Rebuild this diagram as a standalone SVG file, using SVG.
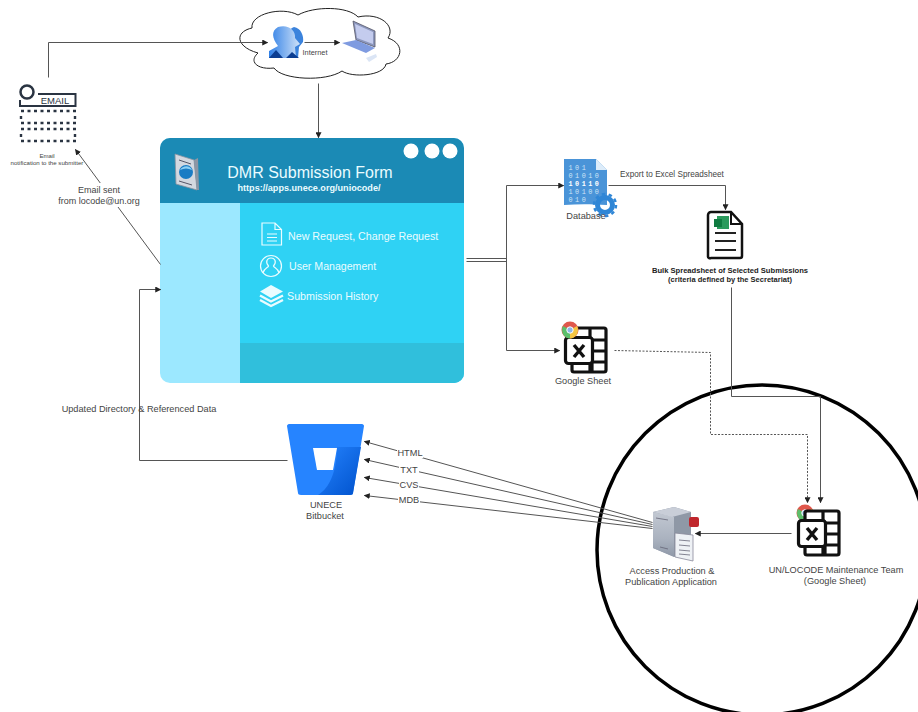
<svg xmlns="http://www.w3.org/2000/svg" width="918" height="712" viewBox="0 0 918 712">
<style>
text{font-family:"Liberation Sans",Arial,sans-serif;fill:#444}
.c{text-anchor:middle}
.w{fill:#eafcff}
.l{fill:none;stroke:#555;stroke-width:1}
.a{marker-end:url(#arr)}
.ic{fill:none;stroke:#111;stroke-width:3.2;stroke-linejoin:round}
.wi{fill:none;stroke:#eafcff;stroke-width:1.2}
.b{font-family:"Liberation Mono",monospace;font-size:6.800px;letter-spacing:2.500px;fill:#cfe4f7}
.n{font-size:9.200px}
</style>
<defs>
<marker id="arr" viewBox="0 0 8 8" refX="7" refY="4" markerWidth="6" markerHeight="6" orient="auto" markerUnits="userSpaceOnUse"><path d="M0 0L8 4L0 8Z" fill="#222"/></marker>
<linearGradient id="bb" x1="0" y1="0" x2="1" y2="1"><stop offset="0" stop-color="#2684ff"/><stop offset="1" stop-color="#0052cc"/></linearGradient>
<linearGradient id="hd" x1="0" y1="0" x2="1" y2="0"><stop offset="0" stop-color="#2f7fe6"/><stop offset="1" stop-color="#cfe2f8"/></linearGradient>
<linearGradient id="srv" x1="0" y1="0" x2="0" y2="1"><stop offset="0" stop-color="#c2c8d2"/><stop offset="0.6" stop-color="#aab2bf"/><stop offset="1" stop-color="#8f98a8"/></linearGradient>
<g id="sheet">
<rect x="8" y="1" width="34" height="44" rx="2" fill="#fff" stroke="#111" stroke-width="3.200"/>
<path d="M26 1V10M26 36V45M28 13V45M28 13H42M28 24H42M28 35H42" class="ic"/>
<rect x="1.500" y="10.500" width="27" height="26" rx="3" fill="#fff" stroke="#111" stroke-width="3.200"/>
<path d="M10 18L20 30M20 18L10 30" fill="none" stroke="#111" stroke-width="3.400"/>
</g>
<g id="chrome">
<circle cx="8" cy="8" r="8.500" fill="#e0574c"/>
<path d="M8 8L1 4A8.500 8.500 0 0 0 8 16.500Z" fill="#5cbf6b"/>
<path d="M8 8L15 4A8.500 8.500 0 0 1 8 16.500Z" fill="#f4c542"/>
<circle cx="8" cy="8" r="3.200" fill="#8fb6e8" stroke="#fff"/>
</g>
</defs>

<circle cx="762" cy="550" r="165" fill="none" stroke="#000" stroke-width="3.500"/>

<g id="internet">
<path d="M258 53C236 47 234 32 252 28C250 14 282 6 298 15C314 6 348 6 358 17C380 12 396 26 388 38C406 44 402 62 386 64C384 76 352 78 342 71C326 82 282 80 274 68C258 70 248 62 258 53Z" fill="#fff" stroke="#222" stroke-width="1"/>
<path d="M287 58C284 51 288 47 291 44C286 36 288 29 294 27C301 28 304 36 303 42L299 47L298 58Z" fill="#3b83dc"/>
<path d="M269 58V51L278 46C272 38 271 31 278 27C288 24 296 30 295 38L300 44L295 47L296 58Z" fill="url(#hd)"/>
<path d="M269 58L276 50L283 58ZM286 58L292 52L299 58Z" fill="#0b3d91"/>
<text x="315" y="54.500" font-size="7.400" class="c">Internet</text>
<path d="M353 21L375 31V47L356 40Z" fill="#8c97bd" stroke="#556" stroke-width="0.800"/>
<path d="M355 24L373 32V44L357 38Z" fill="#c4ccee"/>
<path d="M356 40L375 48L366 53L342 43Z" fill="#7f9be0"/>
<path d="M366 58L376 54L377 57L369 62Z" fill="#dbe5f5"/>
</g>

<g id="email">
<circle cx="27" cy="92" r="6.500" fill="none" stroke="#2a3442" stroke-width="2.500"/>
<path d="M38 94H75.500V106H20V100" fill="none" stroke="#2a3442" stroke-width="2"/>
<text x="55" y="104" font-size="9.500" class="c" style="fill:#2a3442">EMAIL</text>
<path d="M21 111H76M21 123H76M21 129H76M21 141H76M21 116V120M75 116V120M21 134V138M75 134V138" fill="none" stroke="#2a3442" stroke-width="2.400" stroke-dasharray="3 3.500"/>
<text x="47" y="158" font-size="6.100" class="c">Email</text>
<text x="47" y="164.500" font-size="6.100" class="c">notification to the submitter</text>
</g>

<g id="form">
<rect x="160" y="138" width="304" height="245" rx="10" fill="#9ce8ff"/>
<path d="M240 203H464V373A10 10 0 0 1 454 383H240Z" fill="#2fd2f4"/>
<path d="M240 343H464V373A10 10 0 0 1 454 383H240Z" fill="#30bfdc"/>
<path d="M170 138H454A10 10 0 0 1 464 148V203H160V148A10 10 0 0 1 170 138Z" fill="#1b8ab5"/>
<circle cx="411" cy="151" r="7.500" fill="#fff"/><circle cx="432" cy="151" r="7.500" fill="#fff"/><circle cx="450" cy="151" r="7.500" fill="#fff"/>
<path d="M175 154L194 160L197 190L176 184Z" fill="#d3d8e0" stroke="#8b93a0" stroke-width="0.800"/>
<path d="M194 160L198 158L199 190L197 190Z" fill="#8d96a5"/>
<path d="M179 160L191 164M179 181L192 185" stroke="#556" stroke-width="1"/>
<circle cx="186" cy="172" r="7" fill="#1a7cc4"/>
<path d="M180 170C183 165 190 165 192 170C188 168 184 168 180 170Z" fill="#8dd0f5"/>
<text x="310" y="178" font-size="16" class="c" style="fill:#eafcff">DMR Submission Form</text>
<text x="309" y="191" font-size="9.100" font-weight="bold" class="c" style="fill:#eafcff">https://apps.unece.org/uniocode/</text>
<path class="wi" d="M262 223H275L281.500 229.500V245H262ZM275 223V229.500H281.500M267 234H277M267 237.500H277M267 241H277"/>
<text x="288" y="240" font-size="10.700" class="w">New Request, Change Request</text>
<circle class="wi" cx="271" cy="266" r="10.500"/>
<path class="wi" d="M263 273C264 268 268 268 268.500 266C265 262 267 258 271 258C275 258 277 262 273.500 266C274 268 278 268 279 273"/>
<text x="289" y="270" font-size="10.600" class="w">User Management</text>
<path d="M271 285L283 291.500L271 298L260 291.500Z" fill="#eafcff"/>
<path d="M260 295.500L271 301.500L283 295.500M260 300L271 306L283 300" fill="none" stroke="#eafcff" stroke-width="2.400"/>
<text x="287" y="300" font-size="10.700" class="w">Submission History</text>
</g>

<g id="database">
<path d="M564 159H596L607 170V205C590 204 578 204 564 205Z" fill="#4a94d8"/>
<path d="M596 159V170H607Z" fill="#dcecfa"/>
<text x="568.500" y="170" class="b">101</text>
<text x="568.500" y="178" class="b">01010</text>
<text x="568.500" y="186" class="b" font-weight="bold" style="fill:#fff">10110</text>
<text x="568.500" y="194" class="b">10100</text>
<text x="568.500" y="202" class="b">010</text>
<circle cx="605" cy="205" r="7.500" fill="none" stroke="#2f86d6" stroke-width="5"/>
<circle cx="605" cy="205" r="11" fill="none" stroke="#2f86d6" stroke-width="2.500" stroke-dasharray="3.500 3.400"/>
<text x="586" y="219" class="c n">Database</text>
</g>
<text x="672" y="177" font-size="8.200" class="c">Export to Excel Spreadsheet</text>

<g id="bulk">
<path d="M711 212H731L742 224V256A2 2 0 0 1 740 258H711A2 2 0 0 1 708 256V215A3 3 0 0 1 711 212Z" fill="#fff" stroke="#111" stroke-width="2.500"/>
<path d="M731 212V224H742" fill="none" stroke="#111" stroke-width="2"/>
<path d="M715 233H736M715 241H736M715 250H736" stroke="#222" stroke-width="2"/>
<rect x="717" y="216" width="12" height="13" fill="#2a9a5c"/>
<rect x="714" y="219" width="8" height="8" fill="#107c41"/>
<text x="730" y="273" font-size="7.600" font-weight="bold" class="c" style="fill:#222">Bulk Spreadsheet of Selected Submissions</text>
<text x="730" y="282" font-size="7.500" font-weight="bold" class="c" style="fill:#222">(criteria defined by the Secretariat)</text>
</g>

<g id="google-sheet">
<use href="#sheet" transform="translate(564 327)"/>
<use href="#chrome" transform="translate(562 322)"/>
<text x="583" y="384" class="c n">Google Sheet</text>
</g>

<g id="maintenance">
<use href="#chrome" transform="translate(797 505)"/>
<use href="#sheet" transform="translate(797 510)"/>
<text x="836" y="573" class="c n">UN/LOCODE Maintenance Team</text>
<text x="835" y="584" class="c n">(Google Sheet)</text>
</g>

<g id="access">
<path d="M653 512L674 507L691 512V552L675 557L653 548Z" fill="#8f98a6"/>
<path d="M653 512L674 517V557L653 548Z" fill="url(#srv)"/>
<path d="M653 512L674 507L691 512L672 517Z" fill="#c9ced8"/>
<path d="M656 518L668 520M660 547L668 549" stroke="#667" stroke-width="0.800"/>
<rect x="689" y="517" width="10" height="10" rx="2" fill="#c0272d"/>
<path d="M675 533L693 535V561L675 557Z" fill="#eef1f5" stroke="#889" stroke-width="0.800"/>
<path d="M679 540L690 541M679 545L690 546M679 550L690 551M679 554L690 555" stroke="#667" stroke-width="0.800"/>
<text x="672" y="574" class="c n">Access Production &amp;</text>
<text x="671" y="585" class="c n">Publication Application</text>
</g>

<g id="bitbucket">
<path d="M289 424H362C363 424 364 425 364 426L353 493C353 494 352 495 350 495H301C299 495 298 494 298 493L287 426C287 425 288 424 289 424Z" fill="#2684ff"/>
<path d="M337 447H361L353 493C353 494 352 495 350 495H318C330 488 337 470 337 447Z" fill="url(#bb)"/>
<path d="M313 448H337L333 470H317Z" fill="#fff"/>
<text x="326" y="508" class="c n">UNECE</text>
<text x="325" y="519" class="c n">Bitbucket</text>
</g>

<g id="connectors" transform="translate(0.500 0.500)">
<path class="l a" d="M48 77V42H267"/>
<path class="l a" d="M304 42H339"/>
<path class="l a" d="M318 83V137"/>
<path class="l a" d="M160 264L75 149"/>
<path class="l a" d="M287 460H139V289H160"/>
<path class="l" d="M466 258H506"/>
<path class="l" d="M466 261H506"/>
<path class="l a" d="M506 185V350H559"/>
<path class="l a" d="M506 185H563"/>
<path class="l a" d="M608 185H725V209"/>
<path class="l a" d="M731 287V396H820V502"/>
<path class="l a" d="M614 350L710 352V434H807V502" stroke-dasharray="2 1.500"/>
<path class="l a" d="M791 533H695"/>
<path class="l a" d="M652 522L364 441"/>
<path class="l a" d="M652 524L364 459"/>
<path class="l a" d="M652 526L364 477"/>
<path class="l a" d="M652 528L364 495"/>
</g>

<g id="edge-labels">
<rect x="55" y="183" width="88" height="24" fill="#fff"/>
<text x="99" y="193" font-size="9" class="c">Email sent</text>
<text x="99" y="204" font-size="9" class="c">from locode@un.org</text>
<rect x="397" y="448" width="26" height="10" fill="#fff"/><text x="410" y="456" class="c n">HTML</text>
<rect x="399" y="465" width="20" height="10" fill="#fff"/><text x="409" y="473" class="c n">TXT</text>
<rect x="399" y="481" width="20" height="10" fill="#fff"/><text x="409" y="488" class="c n">CVS</text>
<rect x="398" y="496" width="22" height="10" fill="#fff"/><text x="409" y="503" class="c n">MDB</text>
<text x="139" y="412" class="c n">Updated Directory &amp; Referenced Data</text>
</g>
</svg>
